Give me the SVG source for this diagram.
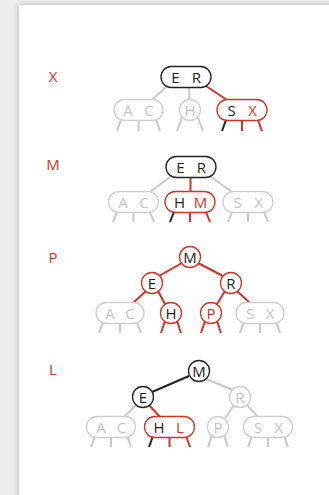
<svg xmlns="http://www.w3.org/2000/svg" width="329" height="495" viewBox="0 0 329 495">
  <defs>
    <filter id="shadow" x="-10%" y="-10%" width="120%" height="120%">
      <feGaussianBlur stdDeviation="3"/>
    </filter>
    <style>
      text { font-family: "Open Sans", "Liberation Sans", sans-serif; font-size: 15px; text-anchor: middle; }
      .lbl { fill: #c8372a; }
      .k { fill: #222; }
      .r { fill: #c8372a; }
      .g { fill: #c4c4c4; }
      .nk { fill: #fff; stroke: #222; stroke-width: 1.3; }
      .nr { fill: #fff; stroke: #c8372a; stroke-width: 1.3; }
      .ng { fill: #fff; stroke: #cfcfcf; stroke-width: 1.3; }
      .ek { stroke: #222; stroke-width: 2; fill: none; }
      .er { stroke: #c8372a; stroke-width: 2; fill: none; }
      .eg { stroke: #c8c8c8; stroke-width: 2; fill: none; }
    </style>
  </defs>

  <!-- page and card -->
  <rect x="0" y="0" width="329" height="495" fill="#eeeeee"/>
  <rect x="19" y="5" width="330" height="510" fill="#b0b0b0" filter="url(#shadow)"/>
  <rect x="19" y="5" width="330" height="510" fill="#ffffff"/>

  <!-- step labels -->
  <text class="lbl" x="53" y="81.5">X</text>
  <text class="lbl" x="53" y="169.5">M</text>
  <text class="lbl" x="53" y="262.5">P</text>
  <text class="lbl" x="53" y="374.5">L</text>

  <g id="connectors">
    <!-- step X -->
    <line class="eg" x1="166" y1="87" x2="152" y2="100"/>
    <line class="eg" x1="189" y1="87.5" x2="189.5" y2="99"/>
    <line class="er" x1="206" y1="86" x2="227" y2="100"/>
    <line class="eg" x1="121" y1="120" x2="117" y2="131"/>
    <line class="eg" x1="138.5" y1="121" x2="138.5" y2="131"/>
    <line class="eg" x1="156" y1="120" x2="160" y2="131"/>
    <line class="eg" x1="182" y1="118" x2="177" y2="131"/>
    <line class="eg" x1="198" y1="118" x2="203" y2="131"/>
    <line class="ek" x1="226" y1="120" x2="222" y2="131"/>
    <line class="er" x1="242" y1="121" x2="242" y2="131"/>
    <line class="er" x1="258" y1="120" x2="262" y2="131"/>

    <!-- step M -->
    <line class="eg" x1="170" y1="177" x2="150" y2="192"/>
    <line class="er" x1="190.5" y1="177.5" x2="190.5" y2="191.5"/>
    <line class="eg" x1="211" y1="177" x2="232" y2="192"/>
    <line class="eg" x1="117" y1="212" x2="113" y2="222"/>
    <line class="eg" x1="133.5" y1="212.5" x2="133.5" y2="222"/>
    <line class="eg" x1="150" y1="212" x2="154" y2="222"/>
    <line class="ek" x1="174" y1="212" x2="170" y2="222"/>
    <line class="er" x1="190" y1="212.5" x2="190" y2="222"/>
    <line class="er" x1="206" y1="212" x2="210" y2="222"/>
    <line class="eg" x1="232" y1="212" x2="228" y2="222"/>
    <line class="eg" x1="248" y1="212.5" x2="248" y2="222"/>
    <line class="eg" x1="264" y1="212" x2="268" y2="222"/>

    <!-- step P -->
    <line class="er" x1="182" y1="263" x2="159" y2="276"/>
    <line class="er" x1="198" y1="263" x2="223" y2="276"/>
    <line class="er" x1="146" y1="291" x2="133" y2="303"/>
    <line class="er" x1="158" y1="291" x2="165" y2="304"/>
    <line class="er" x1="225" y1="291" x2="217" y2="304"/>
    <line class="er" x1="237" y1="291" x2="250" y2="303"/>
    <line class="eg" x1="103" y1="322" x2="99" y2="333"/>
    <line class="eg" x1="120" y1="323" x2="120" y2="333"/>
    <line class="eg" x1="137" y1="322" x2="141" y2="333"/>
    <line class="er" x1="165" y1="321" x2="161" y2="333"/>
    <line class="er" x1="177" y1="321" x2="181" y2="333"/>
    <line class="er" x1="205" y1="321" x2="201" y2="333"/>
    <line class="er" x1="217" y1="321" x2="221" y2="333"/>
    <line class="eg" x1="244" y1="322" x2="240" y2="333"/>
    <line class="eg" x1="260" y1="323" x2="260" y2="333"/>
    <line class="eg" x1="276" y1="322" x2="280" y2="333"/>

    <!-- step L -->
    <line class="ek" x1="189" y1="376" x2="152" y2="392"/>
    <line class="eg" x1="206" y1="379" x2="233" y2="390"/>
    <line class="eg" x1="136" y1="405" x2="124" y2="417"/>
    <line class="er" x1="149" y1="405" x2="160" y2="417"/>
    <line class="eg" x1="234" y1="405" x2="225" y2="418"/>
    <line class="eg" x1="247" y1="405" x2="258" y2="417"/>
    <line class="eg" x1="95" y1="436" x2="91" y2="447"/>
    <line class="eg" x1="111" y1="437" x2="111" y2="447"/>
    <line class="eg" x1="127" y1="436" x2="131" y2="447"/>
    <line class="ek" x1="153" y1="436" x2="149" y2="447"/>
    <line class="er" x1="169.5" y1="437" x2="169.5" y2="447"/>
    <line class="er" x1="186" y1="436" x2="190" y2="447"/>
    <line class="eg" x1="212" y1="435" x2="208" y2="447"/>
    <line class="eg" x1="224" y1="435" x2="228" y2="447"/>
    <line class="eg" x1="252" y1="436" x2="248" y2="447"/>
    <line class="eg" x1="268" y1="437" x2="268" y2="447"/>
    <line class="eg" x1="284" y1="436" x2="288" y2="447"/>
  </g>

  <!-- step X nodes -->
  <g id="x-er">
    <rect class="nk" x="161" y="66.5" width="50" height="21" rx="10.5"/>
    <text class="k" x="175.5" y="82.5">E</text><text class="k" x="196.5" y="82.5">R</text>
  </g>
  <g id="x-ac">
    <rect class="ng" x="114" y="99.5" width="49" height="21" rx="10.5"/>
    <text class="g" x="128" y="115.5">A</text><text class="g" x="149" y="115.5">C</text>
  </g>
  <g id="x-h">
    <circle class="ng" cx="190" cy="110" r="10.5"/>
    <text class="g" x="190" y="115.5">H</text>
  </g>
  <g id="x-sx">
    <rect class="nr" x="217" y="99.5" width="50" height="21" rx="10.5"/>
    <text class="k" x="231.5" y="115.5">S</text><text class="r" x="252.5" y="115.5">X</text>
  </g>

  <!-- step M nodes -->
  <g id="m-er">
    <rect class="nk" x="166" y="156.5" width="50" height="21" rx="10.5"/>
    <text class="k" x="180.5" y="172.5">E</text><text class="k" x="201.5" y="172.5">R</text>
  </g>
  <g id="m-ac">
    <rect class="ng" x="108.5" y="191.5" width="50" height="21" rx="10.5"/>
    <text class="g" x="123" y="207.5">A</text><text class="g" x="144" y="207.5">C</text>
  </g>
  <g id="m-hm">
    <rect class="nr" x="165" y="191.5" width="50" height="21" rx="10.5"/>
    <text class="k" x="179.5" y="207.5">H</text><text class="r" x="200.5" y="207.5">M</text>
  </g>
  <g id="m-sx">
    <rect class="ng" x="223" y="191.5" width="50" height="21" rx="10.5"/>
    <text class="g" x="237.5" y="207.5">S</text><text class="g" x="258.5" y="207.5">X</text>
  </g>

  <!-- step P nodes -->
  <g id="p-m">
    <circle class="nr" cx="190" cy="257" r="10.5"/>
    <text class="k" x="190" y="262.5">M</text>
  </g>
  <g id="p-e">
    <circle class="nr" cx="152" cy="283" r="10.5"/>
    <text class="k" x="152" y="288.5">E</text>
  </g>
  <g id="p-r">
    <circle class="nr" cx="231" cy="283" r="10.5"/>
    <text class="k" x="231" y="288.5">R</text>
  </g>
  <g id="p-ac">
    <rect class="ng" x="96" y="302.5" width="48" height="21" rx="10.5"/>
    <text class="g" x="110" y="318.5">A</text><text class="g" x="130" y="318.5">C</text>
  </g>
  <g id="p-h">
    <circle class="nr" cx="171" cy="313" r="10.5"/>
    <text class="k" x="171" y="318.5">H</text>
  </g>
  <g id="p-p">
    <circle class="nr" cx="211" cy="313" r="10.5"/>
    <text class="r" x="211" y="318.5">P</text>
  </g>
  <g id="p-sx">
    <rect class="ng" x="236" y="302.5" width="48" height="21" rx="10.5"/>
    <text class="g" x="250" y="318.5">S</text><text class="g" x="270" y="318.5">X</text>
  </g>

  <!-- step L nodes -->
  <g id="l-m">
    <circle class="nk" cx="199" cy="371" r="10.5"/>
    <text class="k" x="199" y="376.5">M</text>
  </g>
  <g id="l-e">
    <circle class="nk" cx="143" cy="397" r="10.5"/>
    <text class="k" x="143" y="402.5">E</text>
  </g>
  <g id="l-r">
    <circle class="ng" cx="240" cy="397" r="10.5"/>
    <text class="g" x="240" y="402.5">R</text>
  </g>
  <g id="l-ac">
    <rect class="ng" x="86.5" y="416.5" width="49" height="21" rx="10.5"/>
    <text class="g" x="101" y="432.5">A</text><text class="g" x="121.5" y="432.5">C</text>
  </g>
  <g id="l-hl">
    <rect class="nr" x="144.5" y="416.5" width="50" height="21" rx="10.5"/>
    <text class="k" x="159" y="432.5">H</text><text class="r" x="180" y="432.5">L</text>
  </g>
  <g id="l-p">
    <circle class="ng" cx="218" cy="427" r="10.5"/>
    <text class="g" x="218" y="432.5">P</text>
  </g>
  <g id="l-sx">
    <rect class="ng" x="243.5" y="416.5" width="49" height="21" rx="10.5"/>
    <text class="g" x="258" y="432.5">S</text><text class="g" x="278.5" y="432.5">X</text>
  </g>
</svg>
